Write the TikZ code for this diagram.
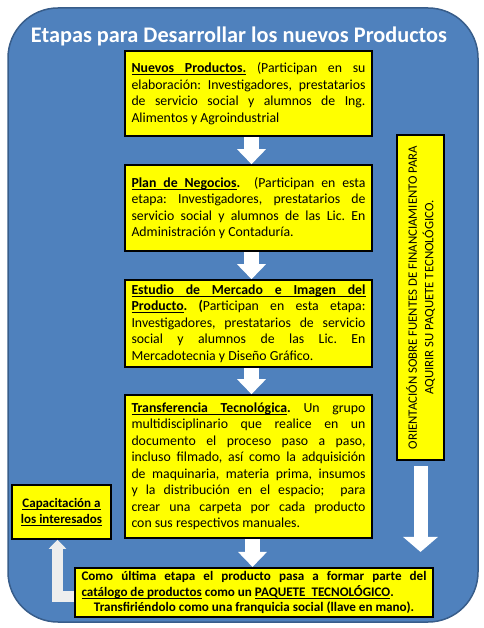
\documentclass[tikz,border=0pt]{standalone}
\usepackage{fontspec}
\setmainfont{Carlito}
\usetikzlibrary{arrows.meta}
\definecolor{fondo}{HTML}{4F81BD}
\definecolor{fondoborde}{HTML}{385D8A}
\definecolor{amarillo}{HTML}{FFFF00}
\definecolor{grisflecha}{HTML}{EEEEEE}
\hbadness=10000
\frenchspacing
% palabra subrayada y espacio subrayado (se estira al justificar)
\newcommand\subw[1]{\leavevmode\setbox0\hbox{#1}\rlap{\rule[-2.3pt]{\wd0}{0.7pt}}\box0\relax}
\newcommand\subsp{\leavevmode\leaders\hrule height -1.6pt depth 2.3pt\hskip\fontdimen2\font plus \fontdimen3\font minus \fontdimen4\font\relax}
\tikzset{
  etapa/.style={draw=black, line width=1.6pt, fill=amarillo, text width=234pt,
    inner xsep=6.5pt, align=justify, font=\fontsize{13.8}{16.5}\selectfont},
  flecha/.style={white, line width=15pt, -{Triangle[width=28pt,length=15pt]}},
}
\begin{document}
\begin{tikzpicture}[x=1pt,y=-1pt]
  \useasboundingbox (0,0) rectangle (483,628);
  \filldraw[fill=fondo, draw=fondoborde, line width=1.5pt, rounded corners=50pt] (8,8) rectangle (478,622);
  \node[anchor=base, white, font=\fontsize{22.3}{26}\selectfont\bfseries] (titulo) at (239,43)
    {Etapas para Desarrollar los nuevos Productos};
  % etapas
  \node[etapa, minimum height=85pt] (b1) at (248.5,93.5)
    {\textbf{\subw{Nuevos}\subsp\subw{Productos.}} (Participan en su\linebreak
     elaboración: Investigadores, prestatarios\linebreak
     de servicio social y alumnos de Ing.\linebreak
     Alimentos y Agroindustrial};
  \node[etapa, minimum height=86pt] (b2) at (248.5,208)
    {\textbf{\subw{Plan}\subsp\subw{de}\subsp\subw{Negocios}.} \ (Participan en esta\linebreak
     etapa: Investigadores, prestatarios de\linebreak
     servicio social y alumnos de las Lic. En\linebreak
     Administración y Contaduría.};
  \node[etapa, minimum height=87pt] (b3) at (248.5,323.5)
    {\textbf{\subw{Estudio}\subsp\subw{de}\subsp\subw{Mercado}\subsp\subw{e}\subsp\subw{Imagen}\subsp\subw{del}}\linebreak
     \textbf{\subw{Producto}. (}Participan en esta etapa:\linebreak
     Investigadores, prestatarios de servicio\linebreak
     social y alumnos de las Lic. En\linebreak
     Mercadotecnia y Diseño Gráfico.};
  \node[etapa, minimum height=143pt] (b4) at (248.5,466.5)
    {\textbf{\subw{Transferencia}\subsp\subw{Tecnológica}.} Un grupo\linebreak
     multidisciplinario que realice en un\linebreak
     documento el proceso paso a paso,\linebreak
     incluso filmado, así como la adquisición\linebreak
     de maquinaria, materia prima, insumos\linebreak
     y la distribución en el espacio; \ para\linebreak
     crear una carpeta por cada producto\linebreak
     con sus respectivos manuales.};
  \node[etapa, text width=345pt, minimum height=49pt, align=flush center,
        font=\fontsize{13.1}{15.8}\selectfont\bfseries] (fin) at (254,592.5)
    {\makebox[\linewidth][s]{Como última etapa el producto pasa a formar parte del}\\
     \makebox[\linewidth][l]{\subw{catálogo}\subsp\subw{de}\subsp\subw{productos} como un \subw{PAQUETE}\subsp\subsp\subw{TECNOLÓGICO}.}\\
     Transfiriéndolo como una franquicia social (llave en mano).};
  \node[etapa, text width=86pt, minimum height=54pt, align=flush center,
        font=\fontsize{13}{16}\selectfont\bfseries] (capac) at (61.5,512)
    {\subw{Capacitación}\subsp\subw{a}\\ \subw{los}\subsp\subw{interesados}};
  \node[etapa, rotate=90, text width=320pt, inner xsep=2.5pt, minimum height=47pt, align=flush center,
        font=\fontsize{12.8}{16.5}\selectfont] (orient) at (420.5,297.5)
    {ORIENTACIÓN SOBRE FUENTES DE FINANCIAMIENTO PARA\\
     AQUIRIR SU PAQUETE TECNOLÓGICO.};
  % flechas
  \draw[flecha] ([xshift=3pt]b1.south) -- ([xshift=3pt]b2.north);
  \draw[flecha] ([xshift=3pt]b2.south) -- ([xshift=3pt]b3.north);
  \draw[flecha] ([xshift=3pt]b3.south) -- ([xshift=3pt]b4.north);
  \draw[flecha] ([xshift=4pt]b4.south) -- ([xshift=4pt]b4.south |- fin.north);
  \draw[white, line width=14pt, -{Triangle[width=34pt,length=15pt]}]
    ([yshift=-5pt]orient.west) -- ([yshift=15pt]orient.west |- fin.north);
  \draw[grisflecha, line width=11pt, -{Triangle[width=17pt,length=9pt]}]
    ([yshift=-4pt]fin.west) -| ([xshift=-4pt]capac.south);
\end{tikzpicture}
\end{document}
